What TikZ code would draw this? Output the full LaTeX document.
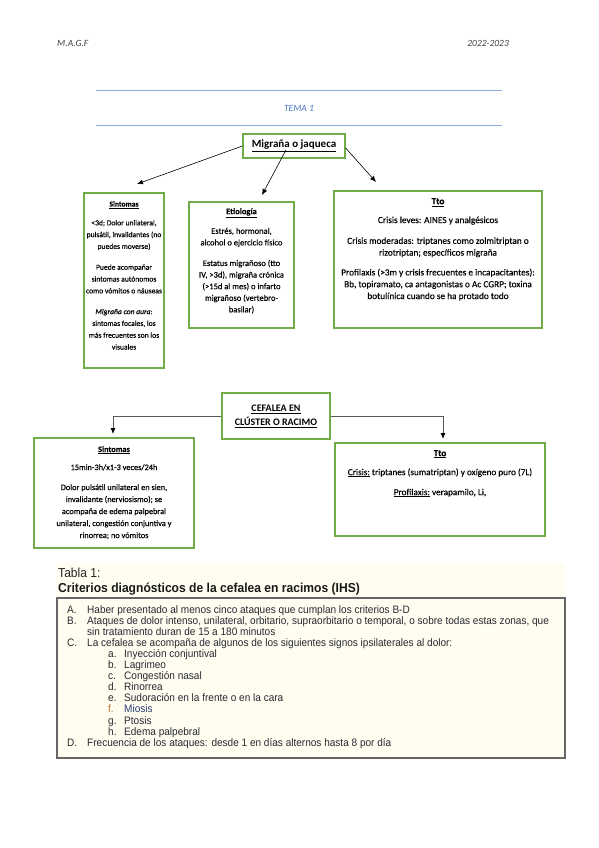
\documentclass[tikz,border=0pt]{standalone}
\usepackage{fontspec}
\setmainfont{Carlito}
\newfontfamily\boxfont[FakeBold=0.35]{Carlito}
\newfontfamily\tabfont[FakeStretch=0.93]{Liberation Sans}
\usetikzlibrary{arrows.meta}
\definecolor{boxgreen}{RGB}{112,173,71}
\definecolor{temablue}{RGB}{68,114,196}
\definecolor{lineblue}{RGB}{143,170,220}
\definecolor{cream}{RGB}{255,253,240}
\definecolor{tabtext}{RGB}{40,40,50}
\definecolor{miosisblue}{RGB}{40,60,120}
\definecolor{miosisorange}{RGB}{190,120,50}

\begin{document}
\begin{tikzpicture}
  [x=1pt,y=-1pt,
   greenbox/.style={draw=boxgreen,line width=1.3pt,fill=white},
   boxtext/.style={align=center,anchor=north,inner sep=0pt},
   arr/.style={-{Latex[length=6pt,width=5pt]},line width=0.6pt},
   elbow/.style={draw=black!65,line width=0.8pt,-{Latex[length=6pt,width=5pt,black]}},
   tabline/.style={anchor=base west,inner sep=0pt,font=\tabfont\fontsize{10.8}{11}\selectfont,text=tabtext}]
  \useasboundingbox (0,0) rectangle (599,848);

  % cabecera
  \node[anchor=west,inner sep=0pt,font=\itshape\fontsize{9.5}{11}\selectfont,text=black!75] (autor) at (57,43) {M.A.G.F};
  \node[anchor=east,inner sep=0pt,font=\itshape\fontsize{9.5}{11}\selectfont,text=black!75] (curso) at (509,43) {2022-2023};
  \draw[lineblue,line width=1pt] (96,91) -- (502,91);
  \draw[lineblue,line width=1pt] (96,126) -- (502,126);
  \node[font=\itshape\fontsize{9.5}{11}\selectfont,text=temablue] (tema) at (299,108) {TEMA 1};

  % migraña
  \node[greenbox,minimum width=102pt,minimum height=24pt,font=\bfseries\fontsize{11}{12}\selectfont] (mig) at (294,146) {\underline{Migraña o jaqueca}};
  \node[greenbox,minimum width=80pt,minimum height=175pt] (sint) at (124,280.5) {};
  \node[greenbox,minimum width=105pt,minimum height=126pt] (etio) at (241.5,265) {};
  \node[greenbox,minimum width=208pt,minimum height=137pt] (tto) at (438,259.5) {};
  \coordinate (sintTip) at (137,184);
  \coordinate (etioTip) at (262,195);
  \coordinate (ttoTip) at (376,182);
  \draw[arr] (mig.west) -- (sintTip);
  \draw[arr] ([xshift=-8pt,yshift=-4pt]mig.center) -- (etioTip);
  \draw[arr] ([yshift=-2pt]mig.east) -- (ttoTip);

  \node[boxtext,font=\boxfont\fontsize{7.6}{11.8}\selectfont] (sintTxt) at (124,201)
    {\underline{\textbf{Sintomas}}\\[7pt]
     <3d; Dolor unilateral,\\ pulsátil, invalidantes (no\\ puedes moverse)\\[9pt]
     Puede acompañar\\ sintomas autónomos\\ como vómitos o náuseas\\[9pt]
     \textit{Migraña con aura}:\\ sintomas focales, los\\ más frecuentes son los\\ visuales};
  \node[boxtext,font=\boxfont\fontsize{8.5}{11.6}\selectfont] (etioTxt) at (241.5,208)
    {\underline{\textbf{Etiología}}\\[8pt]
     Estrés, hormonal,\\ alcohol o ejercicio físico\\[9pt]
     Estatus migrañoso (tto\\ IV, >3d), migraña crónica\\ (>15d al mes) o infarto\\ migrañoso (vertebro-\\ basilar)};
  \node[boxtext,font=\boxfont\fontsize{9.3}{11.8}\selectfont] (ttoTxt) at (438,198)
    {\underline{\textbf{Tto}}\\[7pt]
     Crisis leves: AINES y analgésicos\\[9pt]
     Crisis moderadas: triptanes como zolmitriptan o\\ rizotriptan; específicos migraña\\[8pt]
     Profilaxis (>3m y crisis frecuentes e incapacitantes):\\ Bb, topiramato, ca antagonistas o Ac CGRP; toxina\\ botulínica cuando se ha protado todo};

  % cefalea en racimos
  \node[greenbox,minimum width=108pt,minimum height=46pt,align=center,font=\bfseries\fontsize{10}{14}\selectfont] (clu) at (276,416)
    {\underline{CEFALEA EN}\\\underline{CLÚSTER O RACIMO}};
  \node[greenbox,minimum width=160pt,minimum height=110pt] (cluSint) at (114,493) {};
  \node[greenbox,minimum width=210pt,minimum height=93pt] (cluTto) at (440,489.5) {};
  \coordinate (cluSintTip) at (113,434);
  \coordinate (cluTtoTip) at (443,439);
  \draw[elbow] (clu.west) -| (cluSintTip);
  \draw[elbow] (clu.east) -| (cluTtoTip);

  \node[boxtext,font=\boxfont\fontsize{8.3}{12}\selectfont] (cluSintTxt) at (114,446)
    {\underline{\textbf{Sintomas}}\\[6pt]
     15min-3h/x1-3 veces/24h\\[8pt]
     Dolor pulsátil unilateral en sien,\\ invalidante (nerviosismo); se\\ acompaña de edema palpebral\\ unilateral, congestión conjuntiva y\\ rinorrea; no vómitos};
  \node[boxtext,font=\boxfont\fontsize{9.2}{12}\selectfont] (cluTtoTxt) at (440,450)
    {\underline{\textbf{Tto}}\\[7pt]
     \underline{Crisis:} triptanes (sumatriptan) y oxígeno puro (7L)\\[8pt]
     \underline{Profilaxis:} verapamilo, Li,};

  % tabla 1
  \fill[cream] (57,563) rectangle (565,760);
  \draw[black!60,line width=1.2pt] (57,598) rectangle (565,758);
  \node[anchor=base west,inner sep=0pt,font=\tabfont\fontsize{13}{14}\selectfont,text=black!85] (tabTit) at (58,577) {Tabla 1:};
  \node[anchor=base west,inner sep=0pt,font=\tabfont\bfseries\fontsize{13}{14}\selectfont,text=black!90] (tabSub) at (58,592) {Criterios diagnósticos de la cefalea en racimos (IHS)};

  \node[tabline] (labA) at (67,613) {A.};
  \node[tabline] (itemA) at (87,613) {Haber presentado al menos cinco ataques que cumplan los criterios B-D};
  \node[tabline] (labB) at (67,624.1) {B.};
  \node[tabline] (itemB) at (87,624.1) {Ataques de dolor intenso, unilateral, orbitario, supraorbitario o temporal, o sobre todas estas zonas, que};
  \node[tabline] (itemBb) at (87,635.2) {sin tratamiento duran de 15 a 180 minutos};
  \node[tabline] (labC) at (67,646.3) {C.};
  \node[tabline] (itemC) at (87,646.3) {La cefalea se acompaña de algunos de los siguientes signos ipsilaterales al dolor:};
  \foreach \lab/\txt/\labcol/\txtcol [count=\i from 0] in
    {a/Inyección conjuntival/tabtext/tabtext,
     b/Lagrimeo/tabtext/tabtext,
     c/Congestión nasal/tabtext/tabtext,
     d/Rinorrea/tabtext/tabtext,
     e/Sudoración en la frente o en la cara/tabtext/tabtext,
     f/Miosis/miosisorange/miosisblue,
     g/Ptosis/tabtext/tabtext,
     h/Edema palpebral/tabtext/tabtext}
  {
    \node[tabline,text=\labcol] (lab\lab) at (108,657.4+11.1*\i) {\lab.};
    \node[tabline,text=\txtcol] (item\lab) at (124,657.4+11.1*\i) {\txt};
  }
  \node[tabline] (labD) at (67,746.2) {D.};
  \node[tabline] (itemD) at (87,746.2) {Frecuencia de los ataques: desde 1 en días alternos hasta 8 por día};
\end{tikzpicture}
\end{document}
